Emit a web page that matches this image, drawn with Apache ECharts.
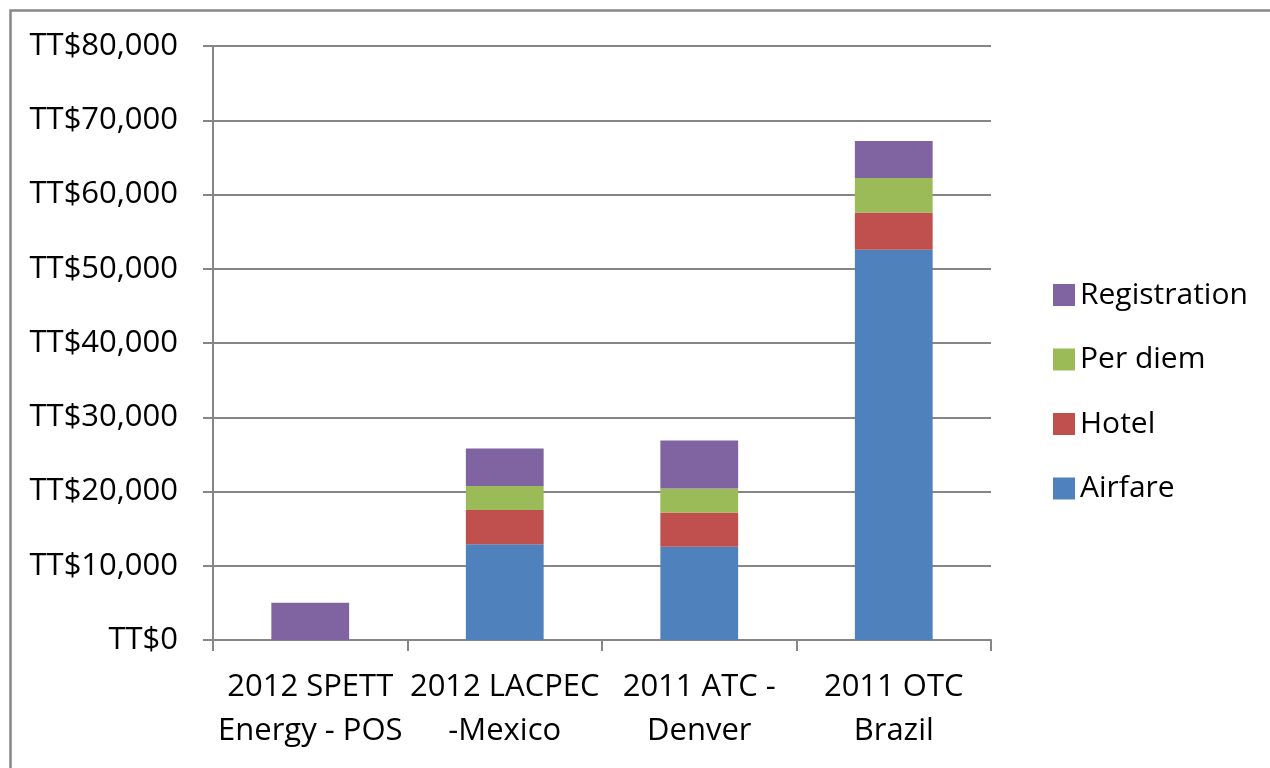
<!DOCTYPE html>
<html>
<head>
<meta charset="utf-8">
<script src="https://cdn.jsdelivr.net/npm/echarts@6/dist/echarts.min.js"></script>
<style>
html,body{margin:0;padding:0;background:#fff;}
#chart{width:1270px;height:768px;}
</style>
</head>
<body>
<div id="chart"></div>
<script>
const categories = ['2012 SPETT\nEnergy - POS', '2012 LACPEC\n-Mexico', '2011 ATC -\nDenver', '2011 OTC\nBrazil'];
const airfare = [0, 12900, 12550, 52550];
const hotel = [0, 4620, 4620, 5020];
const perDiem = [0, 3230, 3230, 4660];
const registration = [5020, 5030, 6460, 4980];
const yTicks = { min: 0, max: 80000, interval: 10000 };

const FONT = '"Open Sans", "Liberation Sans", sans-serif';
const GRAY = '#868686';

const chart = echarts.init(document.getElementById('chart'));
function fmt(v) {
  return 'TT$' + v.toString().replace(/\B(?=(\d{3})+(?!\d))/g, ',');
}
function bar(name, data, color) {
  return {
    name: name, type: 'bar', stack: 'total', data: data,
    barCategoryGap: '60%',
    itemStyle: { color: color },
    emphasis: { disabled: true }
  };
}
chart.setOption({
  animation: false,
  backgroundColor: '#fff',
  textStyle: { fontFamily: FONT },
  graphic: [{
    type: 'rect', left: 8, top: 8,
    shape: { x: 0, y: 0, width: 1300, height: 800 },
    style: { fill: 'none', stroke: GRAY, lineWidth: 2.5 },
    silent: true, z: -10
  }],
  grid: { left: 213, right: 279, top: 46, bottom: 128, containLabel: false },
  legend: {
    orient: 'vertical', left: 1048, top: 275,
    itemWidth: 22, itemHeight: 22, itemGap: 34.5,
    icon: 'rect',
    data: ['Registration', 'Per diem', 'Hotel', 'Airfare'],
    textStyle: { fontFamily: FONT, fontSize: 30, color: '#000', padding: [0, 0, 0, 0] },
    selectedMode: false
  },
  xAxis: {
    type: 'category', data: categories,
    axisLine: { lineStyle: { color: GRAY, width: 2 } },
    axisTick: { show: true, length: 11, lineStyle: { color: GRAY, width: 2 } },
    axisLabel: { color: '#000', fontFamily: FONT, fontSize: 31, lineHeight: 44, margin: 25, interval: 0 },
    splitLine: { show: false }
  },
  yAxis: {
    type: 'value', min: yTicks.min, max: yTicks.max, interval: yTicks.interval,
    axisLine: { show: true, lineStyle: { color: GRAY, width: 2 } },
    axisTick: { show: true, length: 10, lineStyle: { color: GRAY, width: 2 } },
    axisLabel: { color: '#000', fontFamily: FONT, fontSize: 31, margin: 35, formatter: fmt },
    splitLine: { show: true, lineStyle: { color: GRAY, width: 2 } }
  },
  series: [
    bar('Airfare', airfare, '#4F81BD'),
    bar('Hotel', hotel, '#C0504D'),
    bar('Per diem', perDiem, '#9BBB59'),
    bar('Registration', registration, '#8064A2')
  ]
});
</script>
</body>
</html>
